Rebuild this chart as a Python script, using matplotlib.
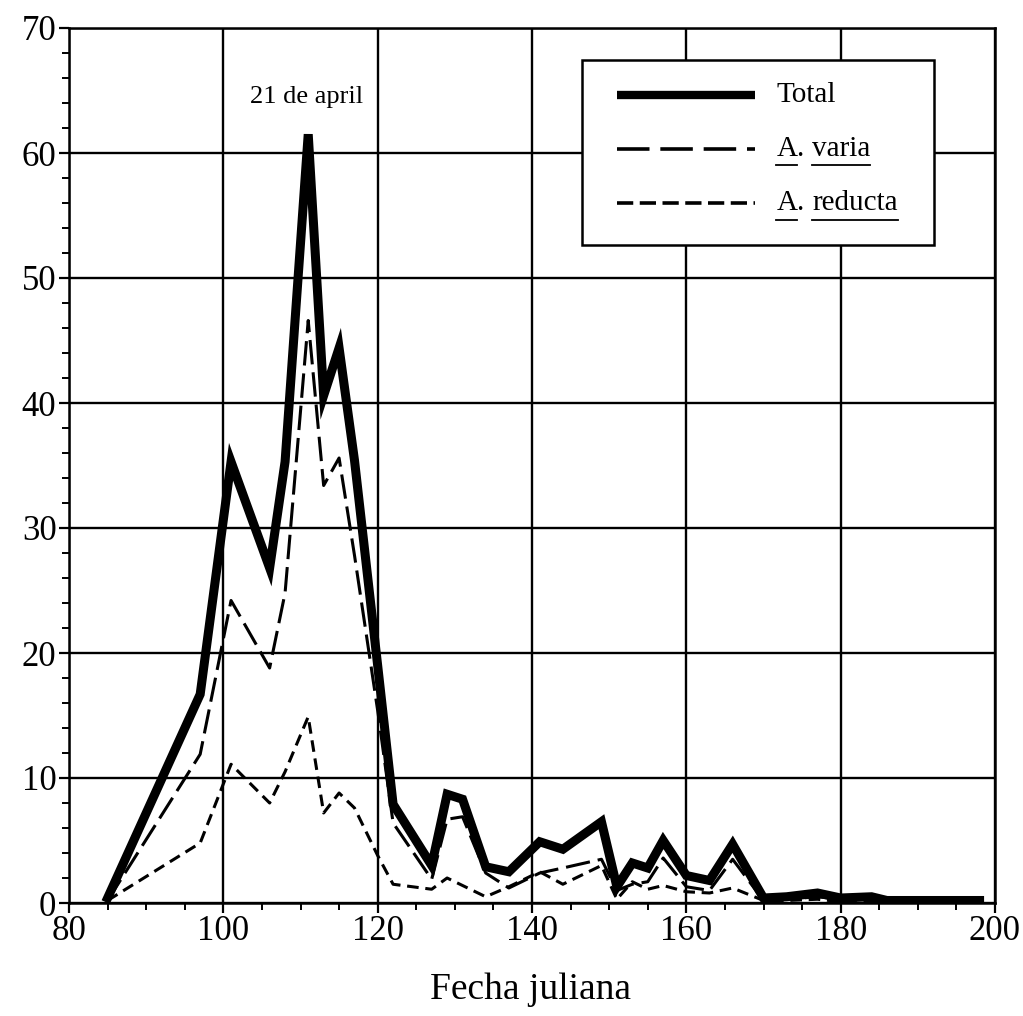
import matplotlib
matplotlib.use("Agg")
import matplotlib.pyplot as plt
from matplotlib.lines import Line2D
from matplotlib.patches import Rectangle
from matplotlib.ticker import MultipleLocator

plt.rcParams['font.family'] = ['Liberation Serif', 'DejaVu Serif']

# ---- data ----
days = [85, 97, 101, 106, 108, 111, 113, 115, 117, 120, 122, 127, 129, 131,
        134, 137, 141, 144, 149, 151, 153, 155, 157, 160, 163, 166, 170,
        173, 177, 180, 184, 186, 198]
total = [0.4, 16.7, 35.3, 26.8, 35.3, 61.5, 40.6, 44.4, 35.4, 19.0, 7.9,
         3.0, 8.7, 8.3, 2.9, 2.5, 4.9, 4.3, 6.5, 1.3, 3.2, 2.8, 5.0, 2.2,
         1.8, 4.7, 0.4, 0.5, 0.8, 0.4, 0.5, 0.2, 0.2]
varia = [0.2, 11.9, 24.2, 18.8, 24.8, 46.6, 33.4, 35.6, 27.8, 15.4, 6.4,
         1.9, 6.7, 6.9, 2.4, 1.2, 2.4, 2.8, 3.5, 1.0, 1.5, 1.7, 3.6, 1.3,
         1.0, 3.5, 0.2, 0.3, 0.5, 0.3, 0.3, 0.1, 0.1]
reducta = [0.2, 4.8, 11.1, 8.0, 10.5, 14.9, 7.2, 8.8, 7.6, 3.8, 1.5,
           1.1, 2.0, 1.4, 0.5, 1.3, 2.5, 1.5, 3.0, 0.3, 1.7, 1.1, 1.4, 0.9,
           0.8, 1.2, 0.2, 0.2, 0.3, 0.1, 0.2, 0.1, 0.1]

x_major = [80, 100, 120, 140, 160, 180, 200]
y_major = [0, 10, 20, 30, 40, 50, 60, 70]
annot_text = "21 de april"
annot_day, annot_val = 110.8, 64.5
xlabel = "Fecha juliana"

# ---- figure ----
fig = plt.figure(figsize=(10.23, 10.16), dpi=100)
ax = fig.add_axes([69 / 1023, 1 - 903 / 1016, 926 / 1023, 875 / 1016])

ax.set_xlim(80, 200)
ax.set_ylim(0, 70)
ax.set_xticks(x_major)
ax.set_yticks(y_major)
ax.xaxis.set_minor_locator(MultipleLocator(5))
ax.yaxis.set_minor_locator(MultipleLocator(2))
ax.tick_params(which='major', direction='out', length=7, width=1.6,
               labelsize=25, color='black', pad=2)
ax.tick_params(which='minor', direction='out', length=5, width=1.4,
               color='black')
ax.grid(True, which='major', color='black', linewidth=1.7)
for s in ax.spines.values():
    s.set_linewidth(1.8)
    s.set_color('black')

ax.plot(days, total, color='black', linewidth=6.5, solid_joinstyle='miter',
        zorder=5)
ax.plot(days, varia, color='black', linewidth=2.2, dashes=(8, 2.6), zorder=4)
ax.plot(days, reducta, color='black', linewidth=2.2, dashes=(3.8, 2.2),
        zorder=4)

ax.text(annot_day, annot_val, annot_text, ha='center', va='center',
        fontsize=19, zorder=6)

fig.text(530 / 1023, 1 - 990 / 1016, xlabel, ha='center', va='center',
         fontsize=27)

# ---- legend drawn by hand (underlined species names) ----
box = Rectangle((0.554, 0.752), 0.380, 0.211, transform=ax.transAxes,
                facecolor='white', edgecolor='black', linewidth=1.8,
                zorder=7)
ax.add_patch(box)
rows = [0.923, 0.862, 0.800]
lx0, lx1 = 0.592, 0.741
ax.add_line(Line2D([lx0, lx1], [rows[0]] * 2, transform=ax.transAxes,
                   color='black', linewidth=6, solid_capstyle='butt',
                   zorder=8))
ax.add_line(Line2D([lx0, lx1], [rows[1]] * 2, transform=ax.transAxes,
                   color='black', linewidth=2.6, dashes=(9, 3), zorder=8))
ax.add_line(Line2D([lx0, lx1], [rows[2]] * 2, transform=ax.transAxes,
                   color='black', linewidth=2.6, dashes=(4.5, 1.8),
                   zorder=8))

fs_leg = 21
tx = 0.764
ax.text(tx, rows[0], "Total", transform=ax.transAxes, fontsize=fs_leg,
        va='center', ha='left', zorder=9)

fig.canvas.draw()
renderer = fig.canvas.get_renderer()
inv = ax.transAxes.inverted()


def width_of(txt):
    t = ax.text(0, 0, txt, transform=ax.transAxes, fontsize=fs_leg)
    bb = t.get_window_extent(renderer)
    t.remove()
    (x0, _), (x1, _) = inv.transform([[bb.x0, bb.y0], [bb.x1, bb.y1]])
    return x1 - x0


wA = width_of("A")
wdot = width_of(". ")
for row, name in [(rows[1], "varia"), (rows[2], "reducta")]:
    ax.text(tx, row, "A", transform=ax.transAxes, fontsize=fs_leg,
            va='center', ha='left', zorder=9)
    ax.text(tx + wA, row, ". ", transform=ax.transAxes, fontsize=fs_leg,
            va='center', ha='left', zorder=9)
    wn = width_of(name)
    ax.text(tx + wA + wdot, row, name, transform=ax.transAxes,
            fontsize=fs_leg, va='center', ha='left', zorder=9)
    uy = row - 0.019
    ax.add_line(Line2D([tx, tx + wA], [uy, uy], transform=ax.transAxes,
                       color='black', linewidth=1.3, zorder=9))
    ax.add_line(Line2D([tx + wA + wdot, tx + wA + wdot + wn], [uy, uy],
                       transform=ax.transAxes, color='black', linewidth=1.3,
                       zorder=9))

fig.savefig("out.png", dpi=100)
